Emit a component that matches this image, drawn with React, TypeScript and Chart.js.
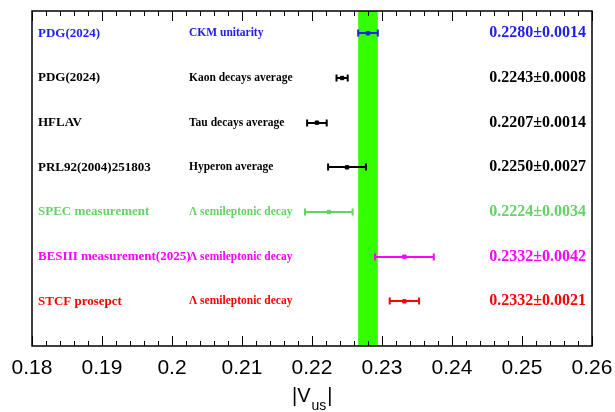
import React, { useEffect, useRef } from 'react';
import { Chart, registerables } from 'chart.js';

Chart.register(...registerables);

// ---- data ----
const sources = [
  'PDG(2024)',
  'PDG(2024)',
  'HFLAV',
  'PRL92(2004)251803',
  'SPEC measurement',
  'BESIII measurement(2025)',
  'STCF prosepct',
];
const methods = [
  'CKM unitarity',
  'Kaon decays average',
  'Tau decays average',
  'Hyperon average',
  'Λ semileptonic decay',
  'Λ semileptonic decay',
  'Λ semileptonic decay',
];
const vusValues = [0.228, 0.2243, 0.2207, 0.225, 0.2224, 0.2332, 0.2332];
const vusErrors = [0.0014, 0.0008, 0.0014, 0.0027, 0.0034, 0.0042, 0.0021];
const rowPositions = [7, 6, 5, 4, 3, 2, 1];
const rowColors = ['#2020f0', '#000000', '#000000', '#000000', '#63d363', '#ff00ff', '#ff0000'];
const bandCenter = 0.228;
const bandError = 0.0014;
const bandColor = '#33ff00';
const xTickLabels = ['0.18', '0.19', '0.2', '0.21', '0.22', '0.23', '0.24', '0.25', '0.26'];
const xMin = 0.18;
const xMax = 0.26;
const yMin = 0;
const yMax = 7.5;

const vusPlugin = {
  id: 'vusPlugin',
  beforeDatasetsDraw(chart: any) {
    const { ctx, chartArea: a, scales } = chart;
    const x = scales.x;
    const y = scales.y;
    ctx.save();
    const b0 = x.getPixelForValue(bandCenter - bandError);
    const b1 = x.getPixelForValue(bandCenter + bandError);
    ctx.fillStyle = bandColor;
    ctx.fillRect(b0, a.top, b1 - b0, a.bottom - a.top);
    vusValues.forEach((v, i) => {
      const py = Math.round(y.getPixelForValue(rowPositions[i]));
      const l = x.getPixelForValue(v - vusErrors[i]);
      const r = x.getPixelForValue(v + vusErrors[i]);
      ctx.strokeStyle = rowColors[i];
      ctx.lineWidth = 2;
      ctx.beginPath();
      ctx.moveTo(l, py);
      ctx.lineTo(r, py);
      ctx.moveTo(l, py - 3.5);
      ctx.lineTo(l, py + 3.5);
      ctx.moveTo(r, py - 3.5);
      ctx.lineTo(r, py + 3.5);
      ctx.stroke();
    });
    ctx.restore();
  },
  afterDatasetsDraw(chart: any) {
    const { ctx, chartArea: a, scales } = chart;
    const x = scales.x;
    ctx.save();
    ctx.strokeStyle = '#000';
    ctx.lineWidth = 1.5;
    ctx.strokeRect(a.left, a.top, a.right - a.left, a.bottom - a.top);
    ctx.lineWidth = 1;
    const majors: number[] = x.ticks.map((t: any) => t.value);
    const drawTick = (val: number, len: number) => {
      const px = Math.round(x.getPixelForValue(val)) + 0.5;
      ctx.beginPath();
      ctx.moveTo(px, a.top);
      ctx.lineTo(px, a.top + len);
      ctx.moveTo(px, a.bottom);
      ctx.lineTo(px, a.bottom - len);
      ctx.stroke();
    };
    majors.forEach((m, i) => {
      drawTick(m, 10);
      if (i < majors.length - 1) {
        const step = (majors[i + 1] - m) / 5;
        for (let k = 1; k < 5; k++) drawTick(m + k * step, 5);
      }
    });
    ctx.restore();
  },
  afterDraw(chart: any) {
    const { ctx, chartArea: a, scales } = chart;
    const y = scales.y;
    ctx.save();
    ctx.textBaseline = 'middle';
    vusValues.forEach((v, i) => {
      const py = y.getPixelForValue(rowPositions[i]);
      ctx.fillStyle = rowColors[i];
      ctx.textAlign = 'left';
      ctx.font = 'bold 13px "Liberation Serif"';
      ctx.fillText(sources[i], a.left + 6, py);
      ctx.font = 'bold 11.5px "Liberation Serif"';
      ctx.fillText(methods[i], a.left + 157, py);
      ctx.textAlign = 'right';
      ctx.font = 'bold 16px "Liberation Serif"';
      ctx.fillText(`${v.toFixed(4)}±${vusErrors[i].toFixed(4)}`, a.right - 6, py);
    });
    // axis title |V_us|
    ctx.fillStyle = '#000';
    ctx.textAlign = 'left';
    ctx.textBaseline = 'alphabetic';
    ctx.font = '20px "Liberation Sans"';
    let tx = 292;
    const base = 402;
    ctx.fillText('|V', tx, base);
    tx += ctx.measureText('|V').width + 1;
    ctx.font = '14px "Liberation Sans"';
    ctx.fillText('us', tx, base + 8);
    tx += ctx.measureText('us').width + 1;
    ctx.font = '20px "Liberation Sans"';
    ctx.fillText('|', tx, base);
    ctx.restore();
  },
};

export default function App() {
  const canvasRef = useRef<HTMLCanvasElement | null>(null);
  useEffect(() => {
    document.body.style.margin = '0';
    const canvas = canvasRef.current;
    if (!canvas) return;
    const chart = new Chart(canvas, {
      type: 'scatter',
      data: {
        datasets: [
          {
            data: vusValues.map((v, i) => ({ x: v, y: rowPositions[i] })),
            pointStyle: 'rect',
            pointRadius: 2.4,
            pointBackgroundColor: rowColors,
            pointBorderColor: rowColors,
            pointBorderWidth: 1,
            showLine: false,
          },
        ],
      },
      options: {
        responsive: false,
        animation: false,
        devicePixelRatio: 1,
        layout: { padding: { left: 32, right: 23, top: 11, bottom: 0 } },
        plugins: { legend: { display: false }, tooltip: { enabled: false } },
        scales: {
          x: {
            type: 'linear',
            min: xMin,
            max: xMax,
            grid: { display: false, drawTicks: false },
            border: { display: false },
            afterFit: (scale: any) => {
              scale.paddingLeft = 0;
              scale.paddingRight = 0;
              scale.height = 66;
            },
            ticks: {
              stepSize: 0.01,
              autoSkip: false,
              maxRotation: 0,
              padding: 10,
              color: '#000',
              font: { family: '"Liberation Sans"', size: 21 },
              callback: (value: any) => {
                const lab = xTickLabels.find((l) => Math.abs(parseFloat(l) - Number(value)) < 1e-6);
                return lab ?? '';
              },
            },
          },
          y: {
            type: 'linear',
            min: yMin,
            max: yMax,
            display: false,
          },
        },
      },
      plugins: [vusPlugin],
    });
    return () => chart.destroy();
  }, []);
  return <canvas ref={canvasRef} width={615} height={412} style={{ display: 'block' }} />;
}
